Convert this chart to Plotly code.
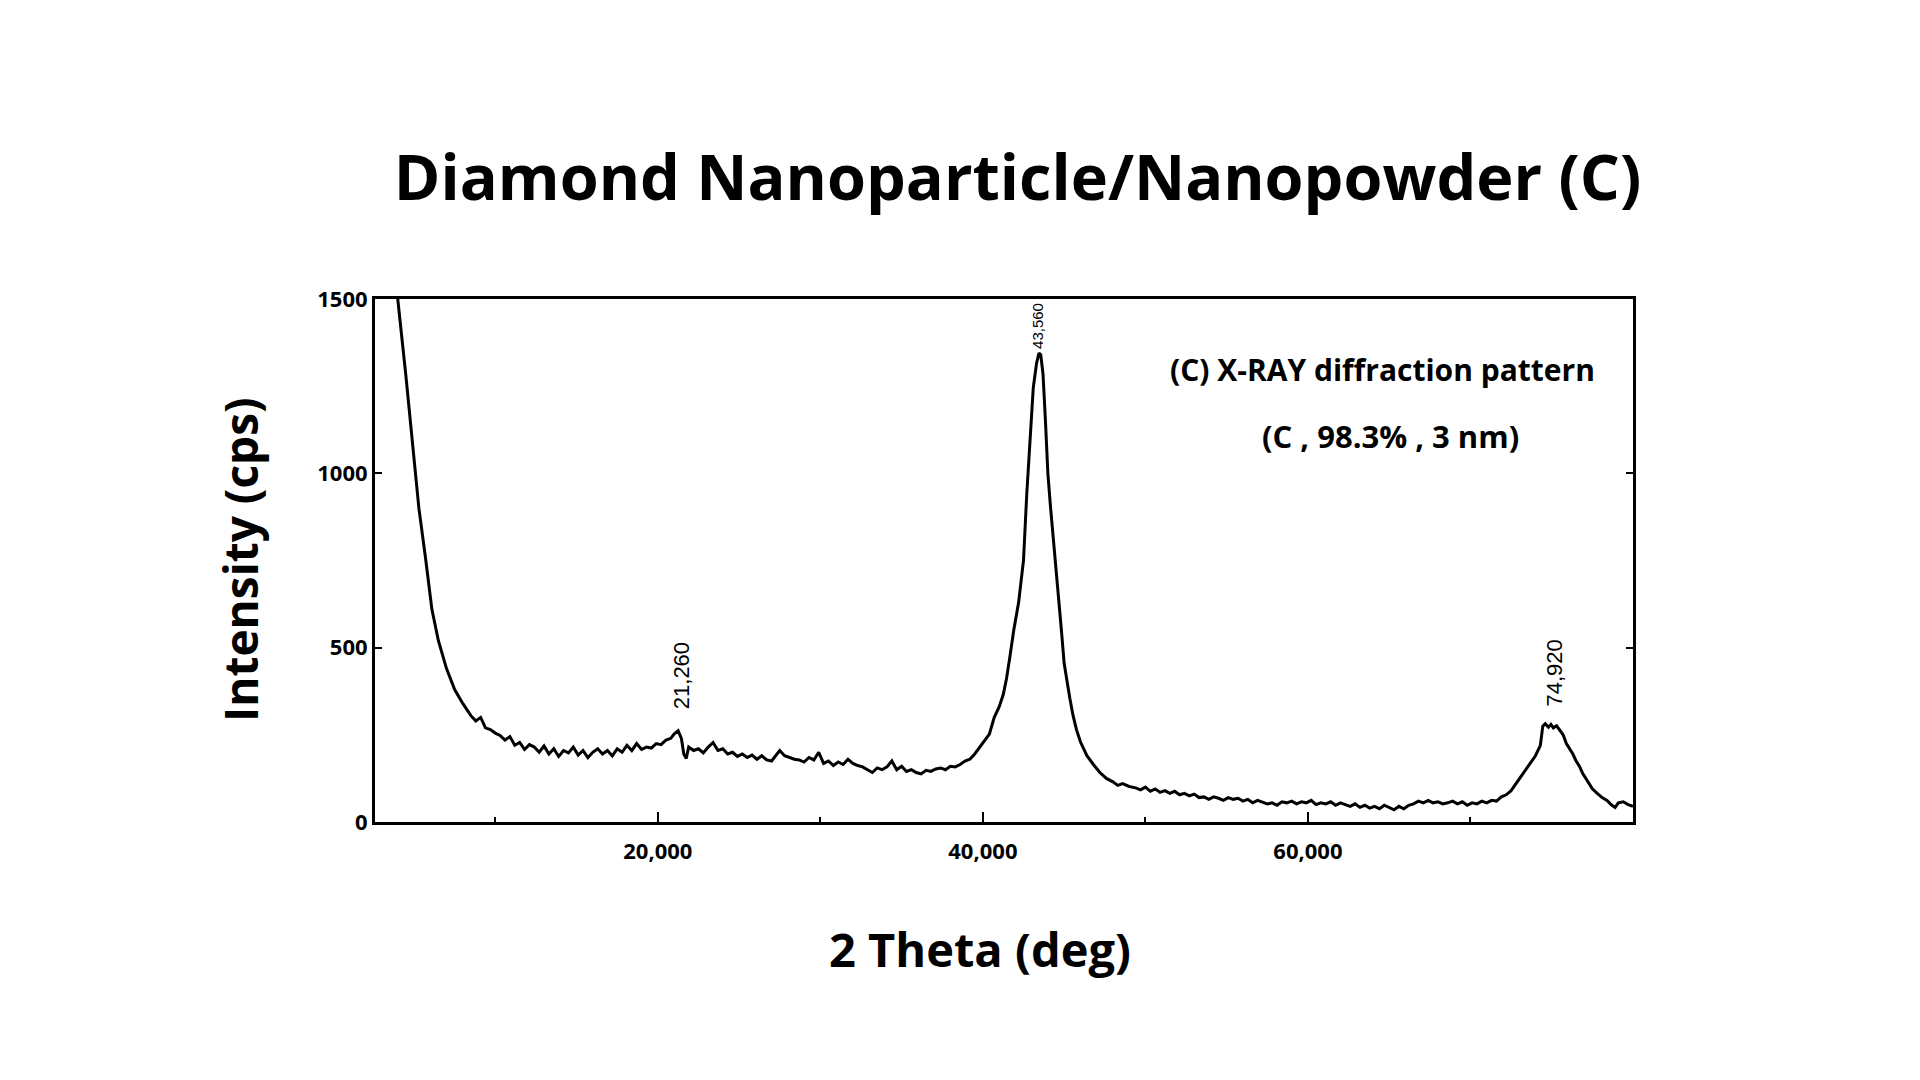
import plotly.graph_objects as go

two_theta = [
    3.75, 4.0, 4.5, 4.9, 5.3, 5.7, 6.1, 6.5, 7.0, 7.5, 8.0, 8.5, 8.8, 9.1, 9.4, 9.7,
    10.0, 10.3, 10.6, 10.9, 11.2, 11.5, 11.8, 12.1, 12.4, 12.7, 13.0, 13.3, 13.6, 13.9,
    14.2, 14.5, 14.8, 15.1, 15.4, 15.7, 16.0, 16.3, 16.6, 16.9, 17.2, 17.5, 17.8, 18.1,
    18.4, 18.7, 19.0, 19.3, 19.6, 19.9, 20.2, 20.5, 20.8, 21.0, 21.25, 21.45, 21.6, 21.75,
    21.9, 22.2, 22.5, 22.8, 23.1, 23.4, 23.7, 24.0, 24.3, 24.6, 24.9, 25.2, 25.5, 25.8,
    26.1, 26.4, 26.7, 27.0, 27.3, 27.5, 27.8, 28.1, 28.4, 28.7, 29.0, 29.3, 29.6, 29.9,
    30.2, 30.5, 30.8, 31.1, 31.4, 31.7, 32.0, 32.3, 32.6, 32.9, 33.2, 33.5, 33.8, 34.1,
    34.4, 34.7, 35.0, 35.3, 35.6, 35.9, 36.2, 36.5, 36.8, 37.1, 37.4, 37.7, 38.0, 38.3,
    38.6, 38.9, 39.2, 39.5, 39.8, 40.1, 40.4, 40.7, 41.0, 41.25, 41.45, 41.65, 41.9, 42.2,
    42.5, 42.7, 42.9, 43.1, 43.3, 43.45, 43.56, 43.7, 43.85, 44.0, 44.15, 44.3, 44.5, 44.7,
    44.85, 45.0, 45.2, 45.35, 45.55, 45.76, 46.0, 46.4, 46.8, 47.2, 47.6, 48.0, 48.3, 48.6,
    49.0, 49.4, 49.7, 50.0, 50.3, 50.6, 50.9, 51.2, 51.5, 51.8, 52.1, 52.4, 52.7, 53.0,
    53.3, 53.6, 53.9, 54.2, 54.5, 54.8, 55.1, 55.4, 55.7, 56.0, 56.3, 56.6, 56.9, 57.2,
    57.5, 57.8, 58.1, 58.4, 58.7, 59.0, 59.3, 59.6, 59.9, 60.2, 60.5, 60.8, 61.1, 61.4,
    61.7, 62.0, 62.3, 62.6, 62.9, 63.2, 63.5, 63.8, 64.1, 64.4, 64.7, 65.0, 65.3, 65.6,
    65.9, 66.2, 66.5, 66.8, 67.1, 67.4, 67.7, 68.0, 68.3, 68.6, 68.9, 69.2, 69.5, 69.8,
    70.1, 70.4, 70.7, 71.0, 71.3, 71.6, 71.9, 72.2, 72.5, 72.8, 73.1, 73.4, 73.7, 74.0,
    74.3, 74.45, 74.6, 74.8, 74.95, 75.1, 75.3, 75.5, 75.7, 75.9, 76.1, 76.3, 76.5, 76.7,
    76.9, 77.1, 77.3, 77.5, 77.8, 78.1, 78.4, 78.7, 78.9, 79.1, 79.4, 79.7, 80.0,
]
intensity = [
    1560, 1500, 1280, 1080, 900, 760, 610, 520, 440, 380, 340, 305, 290, 300, 270, 265,
    255, 248, 235, 245, 220, 228, 208, 222, 215, 200, 218, 195, 210, 188,
    205, 198, 215, 192, 205, 185, 200, 210, 195, 205, 190, 210, 200, 220,
    205, 225, 208, 215, 212, 225, 222, 235, 240, 252, 262, 240, 195, 182,
    215, 205, 210, 198, 215, 228, 205, 210, 195, 200, 188, 195, 185, 192,
    180, 190, 178, 175, 195, 205, 190, 185, 180, 178, 172, 185, 178, 200,
    168, 175, 162, 172, 165, 180, 168, 162, 158, 150, 142, 155, 150, 158,
    175, 150, 160, 145, 150, 142, 138, 148, 145, 152, 155, 150, 160, 158,
    165, 175, 180, 195, 215, 235, 252, 300, 330, 365, 410, 470, 550, 630,
    750, 940, 1090, 1245, 1315, 1345, 1340, 1285, 1150, 1000, 910, 835, 725, 627,
    540, 455, 395, 355, 305, 265, 230, 190, 165, 142, 125, 115, 105, 110,
    102, 98, 92, 100, 88, 95, 85, 90, 82, 88, 78, 82, 75, 80,
    70, 72, 65, 72, 68, 62, 70, 65, 68, 60, 65, 55, 62, 58,
    52, 55, 48, 58, 55, 60, 52, 58, 55, 62, 50, 55, 52, 58,
    48, 55, 50, 45, 52, 42, 48, 40, 45, 38, 48, 42, 35, 45,
    38, 48, 52, 60, 55, 62, 55, 58, 52, 55, 60, 52, 58, 48,
    55, 52, 60, 55, 62, 60, 72, 78, 90, 110, 130, 148, 170, 190,
    220, 275, 282, 272, 280, 270, 276, 262, 250, 225, 210, 195, 175, 160,
    140, 125, 108, 95, 82, 70, 62, 48, 42, 55, 58, 50, 45,
]

peak_x = [21.26, 43.56, 74.92]
peak_text = ["21,260", "43,560", "74,920"]
peak_label_y = [419, 1422, 427]
peak_font = [22, 15, 22]

x_tickvals = [20, 40, 60]
x_ticktext = ["20,000", "40,000", "60,000"]
y_tickvals = [0, 500, 1000, 1500]
y_ticktext = ["0", "500", "1000", "1500"]

FONT = "Open Sans"

fig = go.Figure()
fig.add_trace(go.Scatter(
    x=two_theta, y=intensity, mode="lines",
    line=dict(color="black", width=3),
    hoverinfo="skip", showlegend=False,
))

for px, pt, py, pf in zip(peak_x, peak_text, peak_label_y, peak_font):
    fig.add_annotation(
        x=px, y=py, xref="x", yref="y", text=pt, showarrow=False,
        textangle=-90, xshift=4 if pf > 16 else -4,
        xanchor="center", yanchor="middle",
        font=dict(family="Liberation Sans", size=pf, color="black"),
    )

fig.add_annotation(
    x=0.8005, y=0.866, xref="paper", yref="paper",
    text="(C) X-RAY diffraction pattern", showarrow=False,
    xanchor="center", yanchor="middle",
    font=dict(family=FONT, size=30, color="black", weight=700),
)
fig.add_annotation(
    x=0.807, y=0.738, xref="paper", yref="paper",
    text="(C , 98.3% , 3 nm)", showarrow=False,
    xanchor="center", yanchor="middle",
    font=dict(family=FONT, size=31, color="black", weight=700),
)
fig.add_annotation(
    x=-0.1073, y=0.501, xref="paper", yref="paper",
    text="Intensity (cps)", showarrow=False, textangle=-90,
    xanchor="center", yanchor="middle",
    font=dict(family=FONT, size=46, color="black", weight=700),
)
fig.add_annotation(
    x=0.481, y=-0.243, xref="paper", yref="paper",
    text="2 Theta (deg)", showarrow=False,
    xanchor="center", yanchor="middle",
    font=dict(family=FONT, size=47, color="black", weight=700),
)

fig.update_layout(
    width=1920, height=1080,
    margin=dict(l=375, r=287, t=299, b=258),
    paper_bgcolor="white", plot_bgcolor="white",
    title=dict(
        text="Diamond Nanoparticle/Nanopowder (C)",
        x=0.53, xanchor="center", y=1 - 178 / 1080, yanchor="middle",
        font=dict(family=FONT, size=63, color="black", weight=700),
    ),
    xaxis=dict(
        range=[2.6, 80], showgrid=False, zeroline=False,
        showline=True, linecolor="black", linewidth=3, mirror=True,
        tickmode="array", tickvals=x_tickvals, ticktext=x_ticktext,
        ticks="inside", ticklen=10, tickwidth=2, tickcolor="black",
        minor=dict(tickvals=[10, 30, 50, 70], ticks="inside", ticklen=5,
                   tickwidth=2, tickcolor="black"),
        tickfont=dict(family=FONT, size=22, color="black", weight=700),
        ticklabelstandoff=8,
    ),
    yaxis=dict(
        range=[0, 1500], showgrid=False, zeroline=False,
        showline=True, linecolor="black", linewidth=3, mirror="allticks",
        tickmode="array", tickvals=y_tickvals, ticktext=y_ticktext,
        ticks="inside", ticklen=7, tickwidth=2, tickcolor="black",
        tickfont=dict(family=FONT, size=22, color="black", weight=700),
    ),
)

fig.write_html("out.html")
